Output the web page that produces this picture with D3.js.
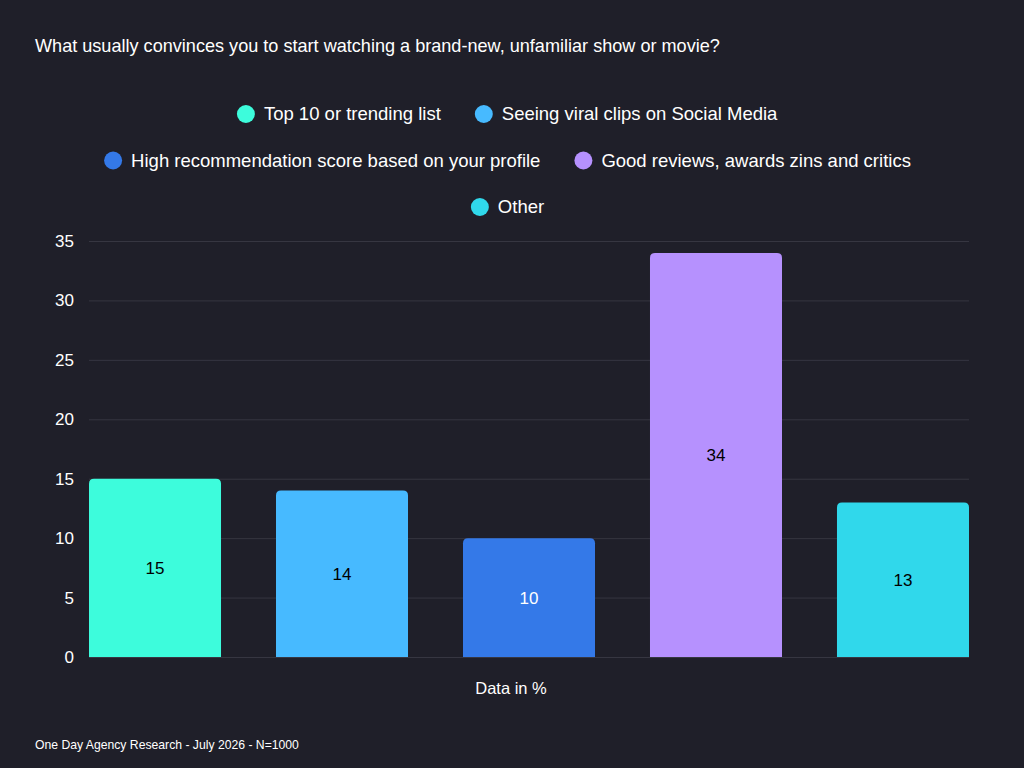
<!DOCTYPE html>
<html>
<head>
<meta charset="utf-8">
<script src="https://cdn.jsdelivr.net/npm/d3@7.9.0/dist/d3.min.js"></script>
<style>
  html, body { margin: 0; padding: 0; background: #1f1f29; }
  svg { display: block; font-family: "Liberation Sans", Arial, Helvetica, sans-serif; }
</style>
</head>
<body>
<svg id="chart" width="1024" height="768"></svg>
<script>
const categories = [
  'Top 10 or trending list',
  'Seeing viral clips on Social Media',
  'High recommendation score based on your profile',
  'Good reviews, awards zins and critics',
  'Other'
];
const values = [15, 14, 10, 34, 13];
const colors = ['#3dfcdc', '#47baff', '#3479e8', '#b691fe', '#30d8eb'];
const labelColors = ['#000', '#000', '#fff', '#000', '#000'];
const yTicks = [0, 5, 10, 15, 20, 25, 30, 35];

const width = 1024, height = 768;
const svg = d3.select('#chart');

svg.append('rect').attr('width', width).attr('height', height).attr('fill', '#1f1f29');

// title
svg.append('text')
  .attr('x', 35).attr('y', 52)
  .attr('fill', '#fff')
  .attr('font-size', 18.1)
  .text('What usually convinces you to start watching a brand-new, unfamiliar show or movie?');

// legend (centered rows, wrapping)
const legend = svg.append('g');
const maxRow = 860, itemGap = 34, r = 9, textGap = 9;
const items = legend.selectAll('g.item')
  .data(categories)
  .join('g')
  .attr('class', 'item');
items.append('circle').attr('r', r).attr('cx', r).attr('cy', 1).attr('fill', (d, i) => colors[i]);
items.append('text')
  .attr('x', 2 * r + textGap).attr('y', 7)
  .attr('fill', '#fff').attr('font-size', 18.5)
  .text(d => d);

const rows = [[]];
let rowW = 0;
items.each(function () {
  const w = this.getBBox().width;
  const cur = rows[rows.length - 1];
  const add = cur.length ? itemGap + w : w;
  if (cur.length && rowW + add > maxRow) {
    rows.push([{ node: this, w }]);
    rowW = w;
  } else {
    cur.push({ node: this, w });
    rowW += add;
  }
});
rows.forEach((row, ri) => {
  const total = d3.sum(row, d => d.w) + itemGap * (row.length - 1);
  let x = width / 2 - total / 2 - 4.5;
  const y = 113 + ri * 46.5;
  row.forEach(d => {
    d3.select(d.node).attr('transform', `translate(${x},${y})`);
    x += d.w + itemGap;
  });
});

// plot
const plot = { left: 89, right: 969, top: 241, bottom: 657 };

const x = d3.scaleBand()
  .domain(categories)
  .range([plot.left, plot.right])
  .paddingInner(0.294)
  .paddingOuter(0);

const y = d3.scaleLinear()
  .domain([0, 35])
  .range([plot.bottom, plot.top]);

const grid = svg.append('g')
  .attr('transform', `translate(${plot.left},0)`)
  .call(d3.axisLeft(y).tickValues(yTicks).tickSize(-(plot.right - plot.left)).tickFormat(''));
grid.select('.domain').remove();
grid.selectAll('line').attr('stroke', '#363641').attr('stroke-width', 1);

const yAxis = svg.append('g')
  .attr('transform', `translate(${plot.left},0)`)
  .call(d3.axisLeft(y).tickValues(yTicks).tickSize(0).tickPadding(15));
yAxis.select('.domain').remove();
yAxis.selectAll('text')
  .attr('fill', '#fff')
  .attr('font-size', 17)
  .attr('font-family', '"Liberation Sans", Arial, sans-serif');

// bars with rounded top corners
const rad = 5;
function barPath(x0, w, yTop, yBot) {
  const rr = Math.min(rad, (yBot - yTop));
  return `M${x0},${yBot}V${yTop + rr}Q${x0},${yTop} ${x0 + rr},${yTop}` +
    `H${x0 + w - rr}Q${x0 + w},${yTop} ${x0 + w},${yTop + rr}V${yBot}Z`;
}

svg.append('g')
  .selectAll('path')
  .data(values)
  .join('path')
  .attr('d', (d, i) => barPath(x(categories[i]), x.bandwidth(), y(d), y(0)))
  .attr('fill', (d, i) => colors[i]);

svg.append('g')
  .selectAll('text')
  .data(values)
  .join('text')
  .attr('x', (d, i) => x(categories[i]) + x.bandwidth() / 2)
  .attr('y', d => (y(d) + y(0)) / 2 + 6)
  .attr('text-anchor', 'middle')
  .attr('font-size', 17)
  .attr('fill', (d, i) => labelColors[i])
  .text(d => d);

// axis title
svg.append('text')
  .attr('x', (plot.left + plot.right) / 2 - 18).attr('y', 694)
  .attr('text-anchor', 'middle')
  .attr('fill', '#fff')
  .attr('font-size', 16.5)
  .text('Data in %');

// footer
svg.append('text')
  .attr('x', 35).attr('y', 749)
  .attr('fill', '#fff')
  .attr('font-size', 12.2)
  .text('One Day Agency Research - July 2026 - N=1000');
</script>
</body>
</html>
